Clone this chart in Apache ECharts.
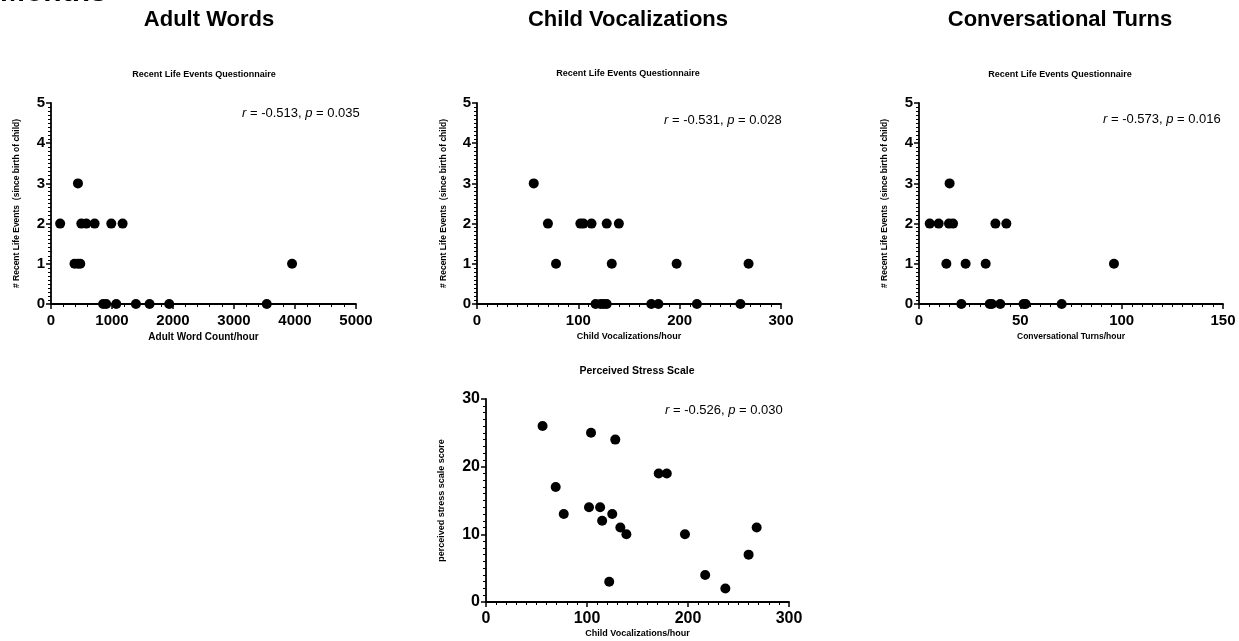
<!DOCTYPE html>
<html>
<head>
<meta charset="utf-8">
<script src="https://cdn.jsdelivr.net/npm/echarts@6/dist/echarts.min.js"></script>
<style>
html,body{margin:0;padding:0;background:#fff;}
#chart{width:1239px;height:641px;}
</style>
</head>
<body>
<div id="chart"></div>
<script>
// ---- Data ----
const panelTitles = ['Adult Words', 'Child Vocalizations', 'Conversational Turns'];
const subTitles = ['Recent Life Events Questionnaire', 'Recent Life Events Questionnaire', 'Recent Life Events Questionnaire', 'Perceived Stress Scale'];
const xNames = ['Adult Word Count/hour', 'Child Vocalizations/hour', 'Conversational Turns/hour', 'Child Vocalizations/hour'];
const yNames = ['# Recent Life Events  (since birth of child)', '# Recent Life Events  (since birth of child)', '# Recent Life Events  (since birth of child)', 'perceived stress scale score'];
const stats = [['-0.513', '0.035'], ['-0.531', '0.028'], ['-0.573', '0.016'], ['-0.526', '0.030']];

// Panel 1: adult words vs recent life events
const adultWords = [150, 385, 440, 480, 442, 497, 579, 715, 988, 1174, 855, 905, 1070, 1392, 1616, 1938, 3537, 3952];
const eventsAW   = [2,   1,   1,   1,   3,   2,   2,   2,   2,   2,    0,   0,   0,    0,    0,    0,    0,    1];

// Panel 2: child vocalizations vs recent life events
const childVoc = [56, 70, 78, 102, 105, 113, 128, 140, 133, 117, 122, 125, 128, 172, 179, 217, 260, 197, 268];
const eventsCV = [3,  2,  1,  2,   2,   2,   2,   2,   1,   0,   0,   0,   0,   0,   0,   0,   0,   1,   1];

// Panel 3: conversational turns vs recent life events
const convTurns = [5.3, 9.7, 14.8, 16.8, 15.1, 13.5, 23, 32.9, 37.7, 43.1, 20.9, 34.9, 36, 40.1, 51.6, 52.6, 70.4, 96.2];
const eventsCT  = [2,   2,   2,    2,    3,    1,    1,  1,    2,    2,    0,    0,    0,  0,    0,    0,    0,    1];

// Panel 4: child vocalizations vs perceived stress
const childVoc2 = [56, 69, 77, 102, 104, 113, 115, 122, 125, 128, 133, 139, 171, 179, 197, 217, 237, 260, 268];
const stressPSS = [26, 17, 13, 14,  25,  14,  12,  3,   13,  24,  11,  10,  19,  19,  10,  4,   2,   7,   11];

// Tick labels
const xTicks = [[0, 1000, 2000, 3000, 4000, 5000], [0, 100, 200, 300], [0, 50, 100, 150], [0, 100, 200, 300]];
const yTicks = [[0, 1, 2, 3, 4, 5], [0, 1, 2, 3, 4, 5], [0, 1, 2, 3, 4, 5], [0, 10, 20, 30]];

// ---- Layout ----
const FONT = "'Liberation Sans', Arial, Helvetica, sans-serif";
const grids = [
  {left: 51, top: 103, width: 305, height: 201},
  {left: 477, top: 103, width: 304, height: 201},
  {left: 919, top: 103, width: 304, height: 201},
  {left: 486, top: 399, width: 303, height: 203}
];
const xMinor = [5, 10, 10, 10];
const yMinor = [10, 10, 10, 10];
const labelSize = [15, 15, 15, 16];
const xNameSize = [10, 9, 8.5, 9];
const xNameGap = [28, 28, 28, 27];
const yNameGap = [30, 29, 30, 40];
const yNameSize = [8.5, 8.5, 8.5, 9];

const seriesData = [
  adultWords.map((x, i) => [x, eventsAW[i]]),
  childVoc.map((x, i) => [x, eventsCV[i]]),
  convTurns.map((x, i) => [x, eventsCT[i]]),
  childVoc2.map((x, i) => [x, stressPSS[i]])
];

function axisCommon(ticks, minor, size) {
  return {
    min: ticks[0],
    max: ticks[ticks.length - 1],
    interval: ticks[1] - ticks[0],
    splitLine: {show: false},
    axisLine: {show: true, onZero: false, lineStyle: {color: '#000', width: 1.8}},
    axisTick: {show: true, inside: false, length: 5, lineStyle: {color: '#000', width: 1.5}},
    minorTick: {show: true, splitNumber: minor, length: 3, lineStyle: {color: '#000', width: 1}},
    axisLabel: {color: '#000', fontWeight: 'bold', fontSize: size, fontFamily: FONT, formatter: v => String(v)},
    nameTextStyle: {color: '#000', fontWeight: 'bold', fontFamily: FONT}
  };
}

const xAxes = grids.map((g, i) => {
  const a = axisCommon(xTicks[i], xMinor[i], labelSize[i]);
  a.type = 'value';
  a.gridIndex = i;
  a.name = xNames[i];
  a.nameLocation = 'middle';
  a.nameGap = xNameGap[i];
  a.nameTextStyle.fontSize = xNameSize[i];
  a.axisLabel.margin = 9;
  return a;
});
const yAxes = grids.map((g, i) => {
  const a = axisCommon(yTicks[i], yMinor[i], labelSize[i]);
  a.type = 'value';
  a.gridIndex = i;
  a.name = yNames[i];
  a.nameLocation = 'middle';
  a.nameGap = yNameGap[i];
  a.nameTextStyle.fontSize = yNameSize[i];
  a.axisLabel.margin = 6;
  return a;
});

const series = seriesData.map((d, i) => ({
  type: 'scatter',
  xAxisIndex: i,
  yAxisIndex: i,
  data: d,
  symbol: 'circle',
  symbolSize: 10,
  itemStyle: {color: '#000', opacity: 1},
  silent: true
}));

// text positions
const titleX = [209, 628, 1060];
const subPos = [[204, 75], [628, 74], [1060, 75], [637, 371]];
const subSize = [9, 9, 9, 10.5];
const statPos = [[242, 113], [664, 120], [1103, 119], [665, 410]];

const graphics = [];
graphics.push({type: 'text', x: 0, y: 8, style: {text: 'Months', font: 'bold 30px ' + FONT, fill: '#000', align: 'left', verticalAlign: 'bottom'}});
panelTitles.forEach((t, i) => {
  graphics.push({type: 'text', x: titleX[i], y: 20, style: {text: t, font: 'bold 22px ' + FONT, fill: '#000', align: 'center', verticalAlign: 'middle'}});
});
subTitles.forEach((t, i) => {
  graphics.push({type: 'text', x: subPos[i][0], y: subPos[i][1], style: {text: t, font: 'bold ' + subSize[i] + 'px ' + FONT, fill: '#000', align: 'center', verticalAlign: 'middle'}});
});
stats.forEach((s, i) => {
  graphics.push({type: 'text', x: statPos[i][0], y: statPos[i][1], style: {
    text: '{i|r} = ' + s[0] + ', {i|p} = ' + s[1],
    fontSize: 13, fontFamily: FONT, fill: '#000', align: 'left', verticalAlign: 'middle',
    rich: {i: {fontStyle: 'italic', fontSize: 13, fontFamily: FONT, fill: '#000'}}
  }});
});

const chart = echarts.init(document.getElementById('chart'), null, {renderer: 'canvas'});
chart.setOption({
  backgroundColor: '#fff',
  animation: false,
  grid: grids,
  xAxis: xAxes,
  yAxis: yAxes,
  series: series,
  graphic: graphics
});
</script>
</body>
</html>
